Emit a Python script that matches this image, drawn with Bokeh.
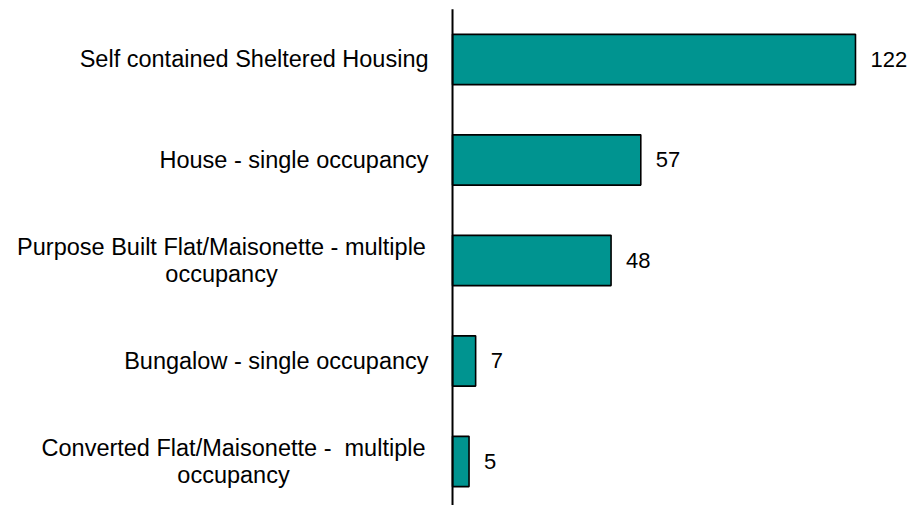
from bokeh.plotting import figure
from bokeh.models import Range1d, ColumnDataSource
from bokeh.core.properties import value
from bokeh.embed import file_html
from bokeh.resources import INLINE

# Data (top to bottom)
categories = [
    "Self contained Sheltered Housing",
    "House - single occupancy",
    "Purpose Built Flat/Maisonette - multiple\noccupancy",
    "Bungalow - single occupancy",
    "Converted Flat/Maisonette -\u00a0 multiple\noccupancy",
]
counts = [122, 57, 48, 7, 5]

n = len(categories)
positions = [n - 1 - i for i in range(n)]

# layout helpers for label alignment (screen offsets, px)
label_align = ["right" if "\n" not in c else "center" for c in categories]
label_offset = [-24, -24, -231, -24, -219]

src = ColumnDataSource(dict(y=positions, v=counts))

p = figure(width=915, height=505, output_backend="svg", toolbar_location=None,
           x_range=Range1d(-136.85, 140.17), y_range=Range1d(-0.438, 4.587),
           min_border=0, min_border_left=0, min_border_right=0,
           min_border_top=0, min_border_bottom=0)
p.axis.visible = False
p.grid.visible = False
p.outline_line_color = None
p.background_fill_color = "white"
p.border_fill_color = "white"

p.hbar(y="y", left=0, right="v", height=0.5, source=src,
       fill_color="#009490", line_color="black", line_width=1.6)

# category axis line
p.segment(x0=[0], y0=[-0.5], x1=[0], y1=[n - 0.5], line_color="black", line_width=2)

# value labels
p.text(x="v", y="y", text="v", source=src, x_offset=15,
       text_font=value("Liberation Sans"), text_font_size="22px",
       text_color="black", text_align="left", text_baseline="middle")

# category labels
for i in range(n):
    p.text(x=[0], y=[positions[i]], text=[categories[i]], x_offset=label_offset[i],
           text_font=value("Liberation Sans"), text_font_size="23.5px",
           text_color="black", text_align=label_align[i], text_baseline="middle",
           text_line_height=1.01)

open("out.html", "w").write(file_html(p, INLINE))
